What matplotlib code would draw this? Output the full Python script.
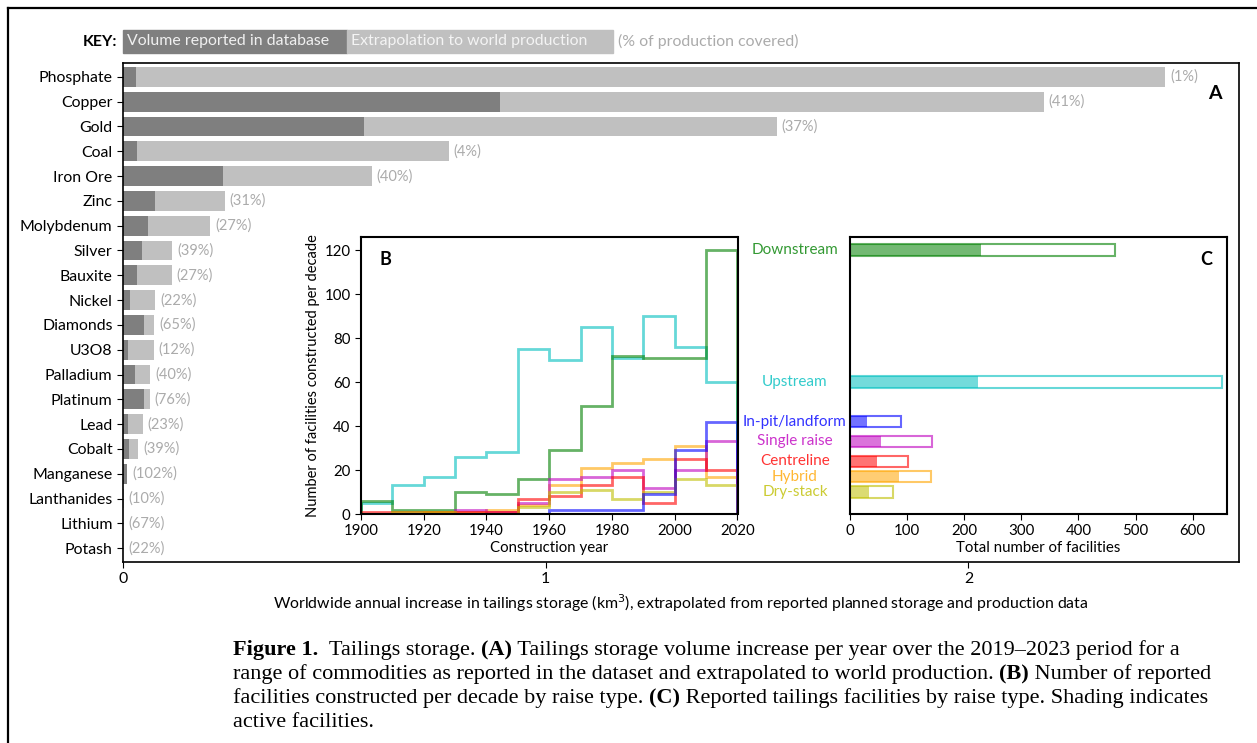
import numpy as np
import matplotlib.pyplot as plt
from matplotlib.patches import Rectangle
from matplotlib.colors import to_rgba
import matplotlib.transforms as mtransforms

plt.rcParams['font.family'] = ['Lato', 'DejaVu Sans']

# ---- panel A data: tailings volume increase per year (km3)
commodities = ['Phosphate', 'Copper', 'Gold', 'Coal', 'Iron Ore', 'Zinc', 'Molybdenum',
               'Silver', 'Bauxite', 'Nickel', 'Diamonds', 'U3O8', 'Palladium', 'Platinum',
               'Lead', 'Cobalt', 'Manganese', 'Lanthanides', 'Lithium', 'Potash']
reported = [0.031, 0.891, 0.569, 0.033, 0.236, 0.076, 0.058, 0.046, 0.032, 0.017,
            0.050, 0.011, 0.028, 0.050, 0.012, 0.015, 0.0095, 0.0002, 0.0007, 0.0002]
extrapolated = [2.466, 2.178, 1.547, 0.771, 0.588, 0.241, 0.206, 0.116, 0.115, 0.076,
                0.074, 0.073, 0.064, 0.063, 0.047, 0.036, 0.0093, 0.002, 0.001, 0.001]
coverage = [1, 41, 37, 4, 40, 31, 27, 39, 27, 22, 65, 12, 40, 76, 23, 39, 102, 10, 67, 22]

# ---- panel B data: facilities constructed per decade
decade_edges = [1900, 1910, 1920, 1930, 1940, 1950, 1960, 1970, 1980, 1990, 2000, 2010, 2020]
downstream_decade = [6, 2, 2, 10, 9, 16, 29, 49, 72, 71, 71, 120]
upstream_decade = [5, 13, 17, 26, 28, 75, 70, 85, 71, 90, 76, 60]
inpit_decade = [0, 0, 0, 0, 0, 0, 2, 2, 2, 9, 29, 42]
single_decade = [0, 0, 0, 2, 1, 5, 16, 17, 20, 12, 20, 33]
centre_decade = [1, 1, 1, 1, 1, 7, 8, 13, 17, 5, 25, 20]
hybrid_decade = [0, 0, 1, 1, 2, 4, 13, 21, 23, 25, 31, 17]
dry_decade = [0, 1, 1, 0, 0, 3, 10, 11, 7, 10, 16, 13]

# ---- panel C data: total / active facilities by raise type
raise_types = ['Downstream', 'Upstream', 'In-pit/landform', 'Single raise',
               'Centreline', 'Hybrid', 'Dry-stack']
active_facilities = [229, 224, 29, 54, 47, 86, 33]
total_facilities = [464, 651, 90, 144, 101, 141, 75]

raise_colors = ['g', 'c', 'b', 'm', 'r', 'orange', 'y']
label_levels = [120, 60, 42, 33, 24, 17, 10]   # where the labels sit on the B y-scale

W, H = 1257, 743
fig = plt.figure(figsize=(W / 100, H / 100), dpi=100)

def px_rect(l, t, r, b):
    return [l / W, 1 - b / H, (r - l) / W, (b - t) / H]

dark = '#7f7f7f'
light = '#c0c0c0'
pct_col = '#ababab'
fs_a = 11.4

# ---------------- panel A
ax_a = fig.add_axes(px_rect(123, 63, 1239, 562))
ypos = np.arange(len(commodities))
ax_a.barh(ypos, extrapolated, height=0.8, color=light)
ax_a.barh(ypos, reported, height=0.8, color=dark)
for y, tot, rep, p in zip(ypos, extrapolated, reported, coverage):
    ax_a.annotate(f'({p}%)', (max(tot, rep), y), xytext=(3.5, 0), textcoords='offset points',
                  va='center', ha='left', color=pct_col, fontsize=10.5)
ax_a.set_yticks(ypos)
ax_a.set_yticklabels(commodities, fontsize=fs_a)
ax_a.set_ylim(len(commodities) - 0.44, -0.56)
ax_a.set_xlim(0, 2.64)
ax_a.set_xticks([0, 1, 2])
ax_a.tick_params(axis='x', labelsize=fs_a, length=4)
ax_a.tick_params(axis='y', length=4)
ax_a.set_xlabel('Worldwide annual increase in tailings storage (km$^3$), extrapolated from '
                'reported planned storage and production data', fontsize=fs_a, labelpad=4)
for s in ax_a.spines.values():
    s.set_linewidth(1.2)
ax_a.text(0.984, 0.955, 'A', transform=ax_a.transAxes, fontsize=14, fontweight='bold',
          ha='right', va='top')

# key
fig.patches.append(Rectangle((123 / W, 1 - 53 / H), (347 - 123) / W, 23 / H,
                             transform=fig.transFigure, color=dark))
fig.patches.append(Rectangle((347 / W, 1 - 53 / H), (613 - 347) / W, 23 / H,
                             transform=fig.transFigure, color=light))
fig.text(117 / W, 1 - 41.5 / H, 'KEY:', ha='right', va='center', fontweight='bold', fontsize=fs_a)
fig.text(127 / W, 1 - 41.5 / H, 'Volume reported in database', ha='left', va='center',
         color='#f0f0f0', fontsize=fs_a)
fig.text(351 / W, 1 - 41.5 / H, 'Extrapolation to world production', ha='left', va='center',
         color='#f4f4f4', fontsize=fs_a)
fig.text(618 / W, 1 - 41.5 / H, '(% of production covered)', ha='left', va='center',
         color=pct_col, fontsize=fs_a)

# ---------------- panel B
ax_b = fig.add_axes(px_rect(361, 237, 737.5, 514))
series = [downstream_decade, upstream_decade, inpit_decade, single_decade,
          centre_decade, hybrid_decade, dry_decade]
draw_order = [1, 0, 5, 3, 4, 6, 2]
for i in draw_order:
    ax_b.stairs(series[i], decade_edges, baseline=0, color=raise_colors[i], alpha=0.6, lw=2)
ax_b.set_xlim(1900, 2020)
ax_b.set_ylim(0, 126)
ax_b.set_xticks(range(1900, 2021, 20))
ax_b.set_yticks(range(0, 121, 20))
ax_b.tick_params(labelsize=10.8, length=4)
ax_b.set_xlabel('Construction year', fontsize=10.8, labelpad=2)
ax_b.set_ylabel('Number of facilities constructed per decade', fontsize=10.5, labelpad=3)
ax_b.text(0.05, 0.95, 'B', transform=ax_b.transAxes, fontsize=13, fontweight='bold',
          ha='left', va='top')
for s in ax_b.spines.values():
    s.set_linewidth(1.5)

# ---------------- panel C
ax_c = fig.add_axes(px_rect(850, 237, 1227, 514))
bar_h = 5.2
for lvl, act, tot, col in zip(label_levels, active_facilities, total_facilities, raise_colors):
    ax_c.barh(lvl, tot, height=bar_h, facecolor='white', edgecolor=to_rgba(col, 0.6), lw=1.5)
    ax_c.barh(lvl, act, height=bar_h, color=col, alpha=0.55, lw=0)
ax_c.set_xlim(0, 660)
ax_c.set_ylim(0, 126)
ax_c.set_yticks([])
ax_c.set_xticks(range(0, 601, 100))
ax_c.tick_params(labelsize=10.8, length=4)
ax_c.set_xlabel('Total number of facilities', fontsize=10.8, labelpad=2)
ax_c.text(0.96, 0.95, 'C', transform=ax_c.transAxes, fontsize=13, fontweight='bold',
          ha='right', va='top')
for s in ax_c.spines.values():
    s.set_linewidth(1.5)
lab_tr = mtransforms.blended_transform_factory(ax_c.transAxes, ax_c.transData)
for name, lvl, col in zip(raise_types, label_levels, raise_colors):
    ax_c.text(-0.146, lvl, name, transform=lab_tr, ha='center', va='center',
              color=to_rgba(col, 0.8), fontsize=11, clip_on=False)

# ---------------- outer frame
fig.add_artist(plt.Line2D([8 / W, 1], [1 - 8 / H, 1 - 8 / H], transform=fig.transFigure,
                          color='black', lw=1.6))
fig.add_artist(plt.Line2D([8 / W, 8 / W], [0, 1 - 8 / H], transform=fig.transFigure,
                          color='black', lw=1.6))

# ---------------- caption (mixed bold / regular runs)
cap_lines = [
    [('Figure 1.', True), ('  Tailings storage. ', False), ('(A)', True),
     (' Tailings storage volume increase per year over the 2019\u20132023 period for a', False)],
    [('range of commodities as reported in the dataset and extrapolated to world production. ', False),
     ('(B)', True), (' Number of reported', False)],
    [('facilities constructed per decade by raise type. ', False), ('(C)', True),
     (' Reported tailings facilities by raise type. Shading indicates', False)],
    [('active facilities.', False)],
]
renderer = fig.canvas.get_renderer()
cap_kw = dict(family='Liberation Serif', fontsize=16, va='baseline', ha='left')

def run_width(s, bold):
    # width of a run including its spaces, measured with sentinels
    t = fig.text(0, 0, '|' + s + '|', fontweight='bold' if bold else 'normal', **cap_kw)
    w = t.get_window_extent(renderer).width
    t.remove()
    t = fig.text(0, 0, '||', fontweight='bold' if bold else 'normal', **cap_kw)
    w -= t.get_window_extent(renderer).width
    t.remove()
    return w

for k, parts in enumerate(cap_lines):
    x = 233
    y = 655 + 24 * k
    for s, bold in parts:
        fig.text(x / W, 1 - y / H, s, fontweight='bold' if bold else 'normal', **cap_kw)
        x += run_width(s, bold)

fig.savefig('out.png', dpi=100)
